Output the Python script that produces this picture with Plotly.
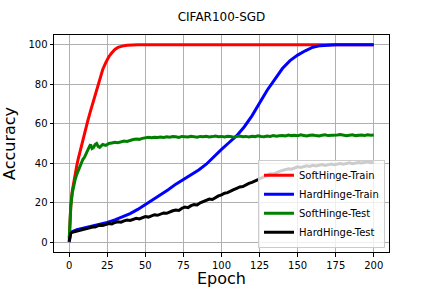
import plotly.graph_objects as go

# ---- data ----
soft_train_epochs = [0, 1, 2, 3, 4, 5, 6, 8, 10, 12, 14, 16, 18, 20, 22, 24, 26, 28, 30, 32, 34, 36, 38, 40,
                     45, 50, 60, 70, 80, 90, 100, 110, 120, 130, 140, 150, 160, 170, 180, 190, 200]
soft_train = [0, 18, 26, 31, 35.5, 39, 42.5, 49, 55, 61, 66.5, 72, 77.5, 83, 87.5, 91, 94, 96, 97.7, 98.7,
              99.3, 99.6, 99.8, 99.9, 100, 100, 100, 100, 100, 100, 100, 100, 100, 100, 100, 100, 100,
              100, 100, 100, 100]

hard_train_epochs = [0, 1, 5, 10, 15, 20, 25, 30, 35, 40, 45, 50, 55, 60, 65, 70, 75, 80, 85, 90, 95, 100,
                     105, 110, 115, 120, 125, 130, 135, 140, 145, 150, 155, 160, 165, 170, 175, 180, 190, 200]
hard_train = [0, 5, 6.3, 7.2, 8.1, 9, 10, 11.3, 12.8, 14.5, 16.6, 19, 21.4, 24, 26.6, 29.4, 31.8, 34.2,
              36.6, 39.5, 43, 47, 50.5, 54, 58.5, 64, 70.5, 77, 82.5, 88, 92, 94.8, 97, 98.8, 99.6, 99.9,
              100, 100, 100, 100]

test_epochs = [0, 1, 2, 3, 4, 5, 6, 7, 8, 9, 10, 11, 12, 13, 14, 15, 16, 17, 18, 19] + list(range(20, 201, 2))

soft_test = [2, 18, 25, 29, 32, 34.5, 36.5, 38.5, 40, 42, 43, 45, 46, 48, 49.5, 47.5, 48, 49.5, 50, 48.5,
             48, 49.5, 49, 50, 50.3, 50.6, 50.4, 51, 51.2, 51, 51.6, 52, 52.3, 52.1, 52.6, 52.8, 53.1, 52.9,
             53.2, 53, 53.3, 53.1, 53.4, 53.2, 53.5, 53.4, 53.1, 53.6, 53.4, 53.3, 53.7, 53.5, 53.2, 53.6,
             53.4, 53.7, 53.3, 53.5, 53.8, 53.4, 53.6, 53.3, 53.7, 53.5, 53.2, 53.6, 53.8, 53.4, 53.6, 53.3,
             53.7, 53.5, 53.9, 53.6, 53.4, 53.8, 53.6, 54, 53.7, 53.9, 54.1, 53.8, 54.3, 54, 54.2, 53.9,
             54.4, 54.1, 53.8, 54.2, 54.3, 54, 53.8, 54.2, 54.4, 54, 54.1, 53.9, 54.3, 54.5, 54.1, 53.9,
             54.2, 54.4, 54, 54.2, 54.3, 54.1, 54.4, 54.2, 54.3]

hard_test = [0.5, 4.5, 5, 5.2, 5.5, 5.7, 6, 6.1, 6.4, 6.6, 6.8, 7, 7.2, 7.1, 7.3, 7.6, 7.8, 7.7, 8, 8.3,
             8.6, 8.5, 9, 9.4, 9.2, 10, 10.3, 10.1, 10.8, 11.2, 11, 11.7, 12.1, 11.8, 12.6, 13, 12.7, 13.5,
             13.9, 13.6, 14.4, 14.8, 14.6, 15.4, 15.9, 16.3, 16.1, 17.2, 17.8, 17.5, 18.5, 19, 18.8, 19.9,
             20.5, 20.9, 21.8, 21.6, 22.7, 23.4, 24, 24.8, 25.1, 26, 26.6, 27.3, 28, 28.2, 29.2, 29.8, 30.3,
             31.2, 31.7, 32.5, 33.2, 33.8, 34.6, 34.5, 35.4, 35.9, 36.3, 36.9, 37.2, 37, 37.8, 38.2, 37.9,
             38.4, 38.7, 38.4, 38.9, 38.6, 39.1, 39.3, 38.9, 39.4, 39.6, 39.2, 39.7, 39.9, 39.5, 40, 40.2,
             39.8, 40.3, 40.4, 40.1, 40.5, 40.7, 40.3, 40.5]

x_ticks = [0, 25, 50, 75, 100, 125, 150, 175, 200]
y_ticks = [0, 20, 40, 60, 80, 100]

series = [
    ("SoftHinge-Train", soft_train_epochs, soft_train, "#ff0000"),
    ("HardHinge-Train", hard_train_epochs, hard_train, "#0000ff"),
    ("SoftHinge-Test", test_epochs, soft_test, "#008000"),
    ("HardHinge-Test", test_epochs, hard_test, "#000000"),
]

fig = go.Figure()
for name, xs, ys, color in series:
    fig.add_trace(go.Scatter(x=xs, y=ys, mode="lines", name=name,
                             line=dict(color=color, width=3)))

font_family = "DejaVu Sans"
axis_common = dict(
    showgrid=True, gridcolor="#b0b0b0", gridwidth=1,
    showline=True, linecolor="black", linewidth=1, mirror=True,
    ticks="outside", ticklen=3.5, tickwidth=1, tickcolor="black",
    zeroline=False, automargin=False,
    tickfont=dict(family=font_family, size=10, color="black"),
)

fig.update_layout(
    width=432, height=288,
    margin=dict(l=54, r=43, t=35, b=36, autoexpand=False),
    paper_bgcolor="white", plot_bgcolor="white",
    title=dict(text="CIFAR100-SGD", x=(54 + 389) / 2 / 432, xanchor="center", y=1 - 17 / 288, yanchor="middle",
               font=dict(family=font_family, size=12, color="black")),
    font=dict(family=font_family, color="black"),
    showlegend=True,
    legend=dict(x=0.988, y=0.02, xanchor="right", yanchor="bottom",
                bgcolor="rgba(255,255,255,0.8)", bordercolor="#cccccc", borderwidth=1,
                font=dict(family=font_family, size=10, color="black"),
                tracegroupgap=0, itemwidth=30),
)
fig.update_xaxes(range=[-10, 210], tickvals=x_ticks, **axis_common,
                 title=dict(text="Epoch", font=dict(family=font_family, size=16, color="black"), standoff=4))
fig.update_yaxes(range=[-5, 105], tickvals=y_ticks, **axis_common,
                 title=dict(text="Accuracy", font=dict(family=font_family, size=16, color="black"), standoff=8))

fig.write_html("out.html", config={"displayModeBar": False},
               post_script="document.body.style.margin='0';document.body.style.overflow='hidden';")
